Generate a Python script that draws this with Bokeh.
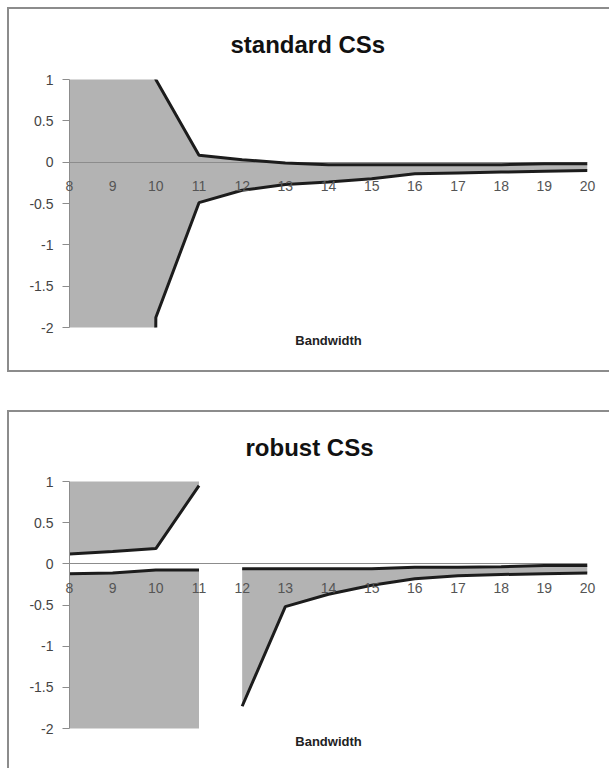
from bokeh.plotting import figure
from bokeh.layouts import column
from bokeh.models import Title, FixedTicker, ColumnDataSource
from bokeh.core.properties import value
from bokeh.embed import file_html
from bokeh.resources import INLINE

# ---------------- data ----------------
bandwidth = [8, 9, 10, 11, 12, 13, 14, 15, 16, 17, 18, 19, 20]
OFF = 100.0  # unbounded edge of the confidence set (off the chart scale)

std_upper = [OFF, OFF, 1.0, 0.085, 0.03, -0.01, -0.03, -0.03, -0.03, -0.03, -0.03, -0.02, -0.02]
std_lower = [-OFF, -OFF, -1.88, -0.49, -0.34, -0.27, -0.24, -0.20, -0.14, -0.13, -0.12, -0.11, -0.10]

rob_bw_a = [8, 9, 10, 11]
rob_upper_a = [0.12, 0.15, 0.185, 0.95]
rob_lower_a = [-0.12, -0.11, -0.075, -0.075]

rob_bw_b = [12, 13, 14, 15, 16, 17, 18, 19, 20]
rob_upper_b = [-0.06, -0.06, -0.06, -0.06, -0.04, -0.04, -0.035, -0.02, -0.02]
rob_lower_b = [-1.73, -0.52, -0.37, -0.26, -0.18, -0.145, -0.13, -0.12, -0.11]

x_ticks = list(range(8, 21))
x_tick_labels = [str(v) for v in x_ticks]
y_ticks = [-2, -1.5, -1, -0.5, 0, 0.5, 1]
y_tick_labels = ["-2", "-1.5", "-1", "-0.5", "0", "0.5", "1"]

FILL = "#b3b3b3"
LINE = "#1c1c1c"
FONT = "Liberation Sans"
BORDER = "#8c8c8c"


def make_fig(title, height, top, below, title_offset, title_standoff, shadow):
    p = figure(width=602, height=height, x_range=(8, 20), y_range=(-2, 1),
               output_backend="svg", toolbar_location=None,
               min_border_left=62, min_border_right=22,
               min_border_top=top, min_border_bottom=below,
               styles={"box-shadow": shadow})
    p.border_fill_color = None
    p.background_fill_color = "white"
    t = Title(text=title, align="left", offset=title_offset, text_font=FONT,
              text_font_size="24px", text_font_style="bold", text_color="#111111",
              standoff=title_standoff)
    p.add_layout(t, "above")
    bl = Title(text="Bandwidth", align="center", text_font=FONT, text_font_size="13px",
               text_font_style="bold", text_color="#222222", standoff=6)
    p.add_layout(bl, "below")
    p.outline_line_color = None
    p.xgrid.visible = False
    p.ygrid.visible = False

    xa = p.xaxis[0]
    xa.fixed_location = 0
    xa.level = "underlay"
    xa.ticker = FixedTicker(ticks=x_ticks)
    xa.axis_line_color = BORDER
    xa.axis_line_width = 1
    xa.major_tick_out = 0
    xa.major_tick_in = 0
    xa.minor_tick_out = 0
    xa.minor_tick_in = 0
    xa.major_label_text_color = None

    ya = p.yaxis[0]
    ya.ticker = FixedTicker(ticks=y_ticks)
    ya.major_label_overrides = {v: s for v, s in zip(y_ticks, y_tick_labels)}
    ya.axis_line_color = BORDER
    ya.major_tick_line_color = BORDER
    ya.major_tick_out = 7
    ya.major_tick_in = 0
    ya.minor_tick_out = 0
    ya.minor_tick_in = 0
    ya.major_label_standoff = 9
    ya.major_label_text_font = FONT
    ya.major_label_text_font_size = "14px"
    ya.major_label_text_color = "#444444"
    return p


def add_x_labels(p):
    src = ColumnDataSource(dict(x=x_ticks, y=[0] * len(x_ticks), text=x_tick_labels))
    r = p.text(x="x", y="y", text="text", source=src, y_offset=19,
               text_align="center", text_baseline="top",
               text_font=value(FONT), text_font_size=value("14px"),
               text_color="#555555")
    r.level = "overlay"


def band_fill(p, xs, lo, hi):
    r = p.varea(x=xs, y1=lo, y2=hi, fill_color=FILL)
    r.level = "image"


def band_line(p, xs, ys):
    p.line(xs, ys, line_color=LINE, line_width=3)


# ---------------- standard CSs ----------------
p1 = make_fig("standard CSs", 365, 72, 45, 161, 43,
              f"inset 2px 2px 0 {BORDER}, inset 0 -2px 0 {BORDER}")
band_fill(p1, bandwidth, std_lower, std_upper)
band_line(p1, bandwidth, std_upper)
band_line(p1, bandwidth, std_lower)
add_x_labels(p1)

# ---------------- robust CSs ----------------
p2 = make_fig("robust CSs", 358, 71, 40, 176, 42,
              f"inset 2px 2px 0 {BORDER}")
band_fill(p2, rob_bw_a, rob_upper_a, [OFF] * len(rob_bw_a))
band_fill(p2, rob_bw_a, [-OFF] * len(rob_bw_a), rob_lower_a)
band_fill(p2, rob_bw_b, rob_lower_b, rob_upper_b)
band_line(p2, rob_bw_a, rob_upper_a)
band_line(p2, rob_bw_a, rob_lower_a)
band_line(p2, rob_bw_b, rob_upper_b)
band_line(p2, rob_bw_b, rob_lower_b)
add_x_labels(p2)

layout = column(p1, p2, spacing=38, styles={"margin-left": "7px", "margin-top": "7px"})
open("out.html", "w").write(file_html(layout, INLINE))
